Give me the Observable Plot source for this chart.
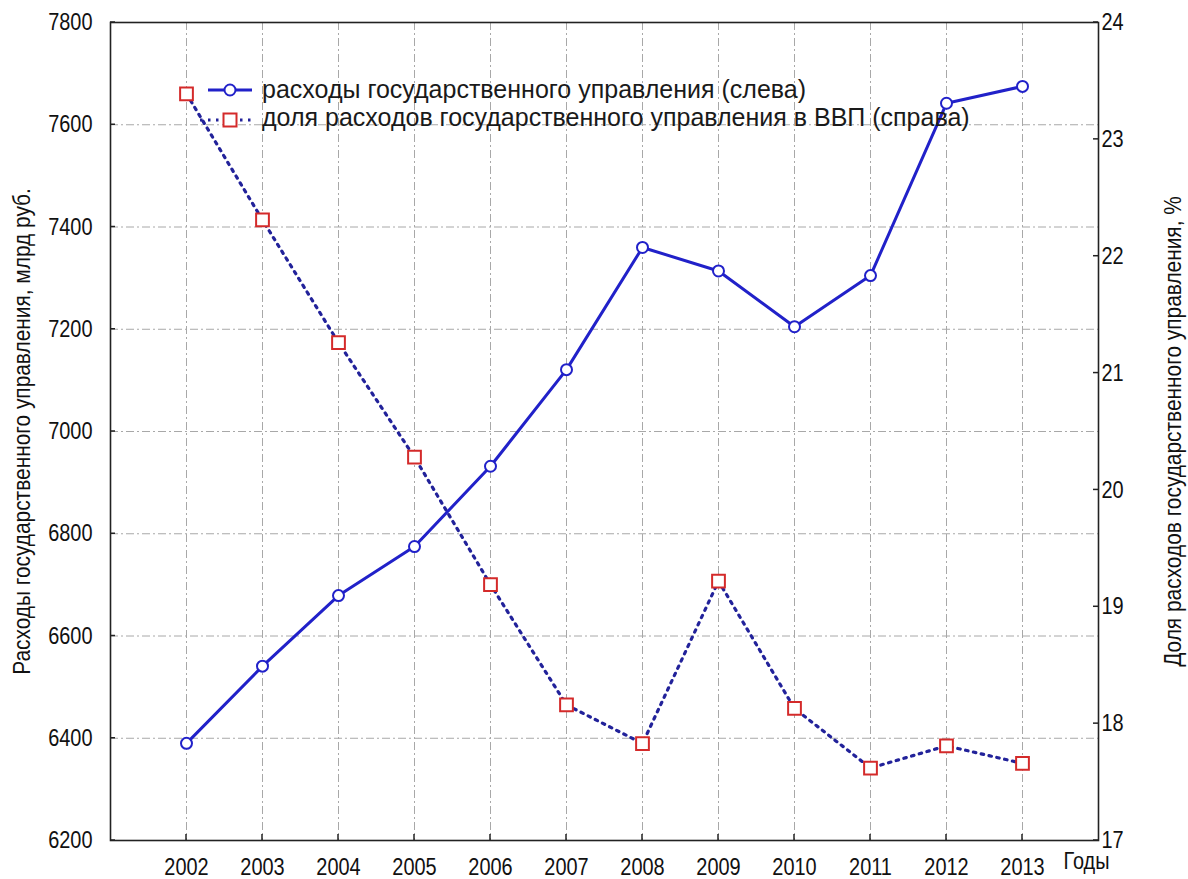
<!DOCTYPE html>
<html>
<head>
<meta charset="utf-8">
<script src="https://cdn.jsdelivr.net/npm/d3@7"></script>
<script src="https://cdn.jsdelivr.net/npm/@observablehq/plot@0.6"></script>
<style>
  html, body { margin: 0; padding: 0; background: #fff; }
  #chart { width: 1188px; height: 879px; }
</style>
</head>
<body>
<div id="chart"></div>
<script>
// ---- data ----
const years = [2002, 2003, 2004, 2005, 2006, 2007, 2008, 2009, 2010, 2011, 2012, 2013];
const spending = [6390, 6541, 6679, 6775, 6932, 7121, 7360, 7314, 7205, 7305, 7642, 7675]; // млрд руб. (left axis)
const share = [23.39, 22.31, 21.26, 20.28, 19.19, 18.16, 17.83, 19.22, 18.13, 17.62, 17.81, 17.66]; // % of GDP (right axis)
const leftTicks = [6200, 6400, 6600, 6800, 7000, 7200, 7400, 7600, 7800];
const rightTicks = [17, 18, 19, 20, 21, 22, 23, 24];
const seriesNames = [
  "расходы государственного управления (слева)",
  "доля расходов государственного управления в ВВП (справа)"
];
const leftTitle = "Расходы государственного управления, млрд руб.";
const rightTitle = "Доля расходов государственного управления, %";
const xTitle = "Годы";

// ---- dual-axis mapping (right domain -> left domain) ----
const L0 = 6200, L1 = 7800, R0 = 17, R1 = 24;
const toLeft = v => L0 + (v - R0) * (L1 - L0) / (R1 - R0);
const fromLeft = v => R0 + (v - L0) * (R1 - R0) / (L1 - L0);

const dataA = years.map((year, i) => ({year, value: spending[i]}));
const dataB = years.map((year, i) => ({year, value: toLeft(share[i])}));

const BLUE = "#2121c9";
const NAVY = "#22229a";
const RED = "#d42a2a";
const GRID = "#a8a8a8";
const FONT = "'Liberation Sans', Arial, sans-serif";

const chart = Plot.plot({
  width: 1188,
  height: 879,
  marginLeft: 110,
  marginRight: 90,
  marginTop: 22,
  marginBottom: 39,
  style: {fontFamily: FONT, fontSize: "24px", color: "#111", background: "#fff"},
  x: {domain: [2001, 2014]},
  y: {domain: [L0, L1]},
  marks: [
    Plot.gridX(years, {stroke: GRID, strokeOpacity: 1, strokeWidth: 1, strokeDasharray: "8,3,2,3"}),
    Plot.gridY(leftTicks, {stroke: GRID, strokeOpacity: 1, strokeWidth: 1, strokeDasharray: "8,3,2,3"}),
    Plot.frame({stroke: "#222", strokeWidth: 1.6}),
    Plot.axisX(years, {tickSize: 0, tickPadding: 17, tickFormat: d => String(d), label: null, fontSize: 24, className: "narrow"}),
    Plot.axisY(leftTicks, {anchor: "left", tickSize: 0, tickPadding: 18, label: null, fontSize: 24,
      tickFormat: d => String(d), className: "narrow"}),
    Plot.axisY(rightTicks.map(toLeft), {anchor: "right", tickSize: 0, tickPadding: 3, label: null,
      tickFormat: d => String(Math.round(fromLeft(d))), fontSize: 24, className: "narrow"}),
    // axis titles
    Plot.text([leftTitle], {frameAnchor: "left", dx: -88, rotate: -90, textAnchor: "middle", fontSize: 24, fill: "#111", className: "narrow title"}),
    Plot.text([rightTitle], {frameAnchor: "right", dx: 75, rotate: -90, textAnchor: "middle", fontSize: 24, fill: "#111", className: "narrow title"}),
    Plot.text([xTitle], {frameAnchor: "bottom-right", dx: -35, dy: 28, textAnchor: "start", fontSize: 24, fill: "#111", className: "narrow"}),
    // share series (right axis)
    Plot.line(dataB, {x: "year", y: "value", stroke: NAVY, strokeWidth: 3.2, strokeDasharray: "2.5,5.5"}),
    Plot.dot(dataB, {x: "year", y: "value", symbol: "square", r: 7.2, stroke: RED, strokeWidth: 2, fill: "#fff"}),
    // spending series (left axis)
    Plot.line(dataA, {x: "year", y: "value", stroke: BLUE, strokeWidth: 3}),
    Plot.dot(dataA, {x: "year", y: "value", r: 5.5, stroke: BLUE, strokeWidth: 2, fill: "#fff"})
  ]
});

const svg = d3.select(chart);
const sx = chart.scale("x"), sy = chart.scale("y");
const xs = v => sx.apply(v), ys = v => sy.apply(v);
const xLeft = xs(2001), xRight = xs(2014), yBottom = ys(L0);

// ---- small inward tick marks on the frame ----
const tk = svg.append("g").attr("stroke", "#222").attr("stroke-width", 1.5);
tk.selectAll("line.tx").data(years).join("line").attr("class", "tx")
  .attr("x1", d => xs(d)).attr("x2", d => xs(d)).attr("y1", yBottom).attr("y2", yBottom - 6);
tk.selectAll("line.tl").data(leftTicks).join("line").attr("class", "tl")
  .attr("x1", xLeft).attr("x2", xLeft + 5).attr("y1", d => ys(d)).attr("y2", d => ys(d));
tk.selectAll("line.tr").data(rightTicks).join("line").attr("class", "tr")
  .attr("x1", xRight).attr("x2", xRight - 5).attr("y1", d => ys(toLeft(d))).attr("y2", d => ys(toLeft(d)));

// ---- legend inside the plot area ----
const lg = svg.append("g").attr("class", "legend").attr("text-anchor", "start");
lg.append("line").attr("x1", 208).attr("x2", 252).attr("y1", 90).attr("y2", 90)
  .attr("stroke", BLUE).attr("stroke-width", 3);
lg.append("circle").attr("cx", 230).attr("cy", 90).attr("r", 5.5)
  .attr("fill", "#fff").attr("stroke", BLUE).attr("stroke-width", 2);
lg.append("line").attr("x1", 200).attr("x2", 252).attr("y1", 120).attr("y2", 120)
  .attr("stroke", NAVY).attr("stroke-width", 3.2).attr("stroke-dasharray", "2.5,5.5");
lg.append("rect").attr("x", 223.5).attr("y", 113.5).attr("width", 13).attr("height", 13)
  .attr("fill", "#fff").attr("stroke", RED).attr("stroke-width", 2);
lg.selectAll("text.lab").data(seriesNames).join("text")
  .attr("class", "lab")
  .attr("x", 262)
  .attr("y", (d, i) => 98 + i * 28)
  .attr("font-family", FONT)
  .attr("font-size", 25)
  .attr("fill", "#1a1a1a")
  .text(d => d);

document.getElementById("chart").appendChild(chart);

// ---- emulate a narrow (condensed) face for axis texts ----
chart.querySelectorAll(".narrow text").forEach(t => {
  const len = t.getComputedTextLength();
  const k = t.closest(".title") ? 0.87 : 0.83;
  if (len > 0) {
    t.setAttribute("textLength", (len * k).toFixed(1));
    t.setAttribute("lengthAdjust", "spacingAndGlyphs");
  }
});
</script>
</body>
</html>
